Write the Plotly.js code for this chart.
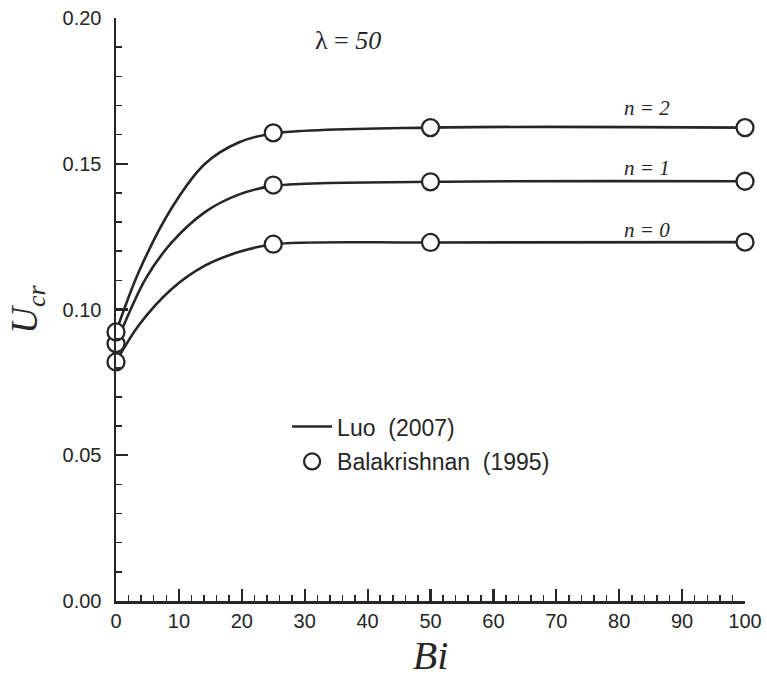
<!DOCTYPE html>
<html>
<head>
<meta charset="utf-8">
<script src="https://cdn.plot.ly/plotly-3.0.1.min.js"></script>
<style>
  html, body { margin: 0; padding: 0; background: #ffffff; }
  #chart { width: 767px; height: 678px; }
</style>
</head>
<body>
<div id="chart"></div>
<script>
// ---- Data ----
// Balakrishnan (1995) points
const biPoints = [0, 25, 50, 100];
const ucrPointsN0 = [0.0820, 0.1224, 0.1230, 0.1231];
const ucrPointsN1 = [0.0883, 0.1427, 0.1438, 0.1440];
const ucrPointsN2 = [0.0923, 0.1606, 0.1624, 0.1624];

// Luo (2007) curves
const biCurveN0 = [0, 3.6, 8.9, 14.2, 19.5, 25, 50, 100];
const ucrCurveN0 = [0.0820, 0.0945, 0.1071, 0.1151, 0.1197, 0.1224, 0.1230, 0.1231];
const biCurveN1 = [0, 4.7, 8.9, 14.2, 19.5, 25, 50, 100];
const ucrCurveN1 = [0.0883, 0.1105, 0.1231, 0.1335, 0.1394, 0.1424, 0.1438, 0.1440];
const biCurveN2 = [0, 3.6, 8.9, 14.2, 19.5, 25, 50, 100];
const ucrCurveN2 = [0.0923, 0.1128, 0.1350, 0.1501, 0.1573, 0.1604, 0.1624, 0.1624];

const seriesLabels = ['n = 0', 'n = 1', 'n = 2'];
const labelBi = [84.4, 84.4, 84.4];
const labelUcr = [0.1274, 0.1484, 0.1690];

const legendLine = 'Luo  (2007)';
const legendMarker = 'Balakrishnan  (1995)';
const paramText = 'λ = <i>50</i>';

// ---- Styling ----
const ink = '#262626';
const sansFont = 'Liberation Sans, Arial, sans-serif';
const serifFont = 'Liberation Serif, Times New Roman, serif';

const curves = [
  [biCurveN0, ucrCurveN0],
  [biCurveN1, ucrCurveN1],
  [biCurveN2, ucrCurveN2]
];
const points = [ucrPointsN0, ucrPointsN1, ucrPointsN2];

const traces = [];
curves.forEach((c, i) => {
  traces.push({
    x: c[0], y: c[1], type: 'scatter', mode: 'lines',
    line: { color: ink, width: 2.6, shape: 'spline', smoothing: 0.9 },
    name: legendLine, legendgroup: 'luo', showlegend: i === 0,
    cliponaxis: false, hoverinfo: 'skip'
  });
});
points.forEach((p, i) => {
  traces.push({
    x: biPoints, y: p, type: 'scatter', mode: 'markers',
    marker: { symbol: 'circle', size: 17, color: '#ffffff', line: { color: ink, width: 2.3 } },
    name: legendMarker, legendgroup: 'bal', showlegend: i === 0,
    cliponaxis: false
  });
});

const annotations = seriesLabels.map((t, i) => ({
  x: labelBi[i], y: labelUcr[i], xref: 'x', yref: 'y',
  text: '<i>' + t + '</i>', showarrow: false,
  font: { family: serifFont, size: 21, color: ink }
}));
annotations.push({
  x: 36.9, y: 0.1924, xref: 'x', yref: 'y', text: paramText, showarrow: false,
  font: { family: serifFont, size: 26, color: ink }
});

const axisCommon = {
  showgrid: false, zeroline: false, showline: true,
  linecolor: ink, linewidth: 2.5,
  ticks: 'inside', ticklen: 12, tickwidth: 2.2, tickcolor: ink,
  tickfont: { family: sansFont, size: 20, color: ink }
};

const layout = {
  width: 767, height: 678,
  paper_bgcolor: '#ffffff', plot_bgcolor: '#ffffff',
  margin: { l: 116, r: 22, t: 18, b: 77 },
  showlegend: true,
  legend: {
    x: 0.272, y: 0.336, xanchor: 'left', yanchor: 'top',
    bgcolor: 'rgba(0,0,0,0)', borderwidth: 0,
    font: { family: sansFont, size: 23, color: ink },
    tracegroupgap: 2, itemwidth: 40
  },
  xaxis: Object.assign({}, axisCommon, {
    range: [0, 100], dtick: 10, tick0: 0,
    minor: { dtick: 2, ticks: 'inside', ticklen: 6, tickwidth: 1.5, tickcolor: ink },
    title: { text: '<i>Bi</i>', font: { family: serifFont, size: 40, color: ink }, standoff: 12 }
  }),
  yaxis: Object.assign({}, axisCommon, {
    range: [0, 0.2], dtick: 0.05, tick0: 0, tickformat: '.2f',
    ticklabelstandoff: 8,
    minor: { dtick: 0.01, ticks: 'inside', ticklen: 6, tickwidth: 1.5, tickcolor: ink },
    title: { text: '<i>U</i><sub><i>cr</i></sub>', font: { family: serifFont, size: 37, color: ink }, standoff: 14 }
  }),
  annotations: annotations
};

Plotly.newPlot('chart', traces, layout, { staticPlot: true, displayModeBar: false });
</script>
</body>
</html>
